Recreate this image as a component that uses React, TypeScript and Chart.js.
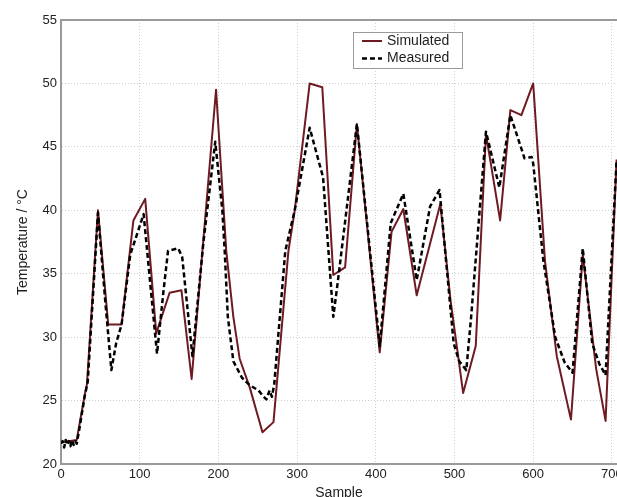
import React, { useEffect, useRef } from "react";
import { Chart, registerables } from "chart.js";

Chart.register(...registerables);

const seriesLabels = ["Simulated", "Measured"];
const xTickValues = [0, 100, 200, 300, 400, 500, 600, 700];

const simX = [0, 10, 20, 30, 33, 47, 60, 77, 92, 107, 121, 138, 153, 166, 197, 210, 219, 227, 240, 256, 270, 289, 297, 316, 332, 346, 361, 376, 405, 420, 435, 452, 482, 495, 511, 527, 540, 558, 571, 585, 600, 615, 630, 648, 663, 680, 692, 706];
const simY = [21.7, 21.8, 21.9, 25.4, 26.3, 40.0, 31.0, 31.0, 39.2, 40.9, 30.3, 33.5, 33.7, 26.7, 49.5, 36.8, 31.6, 28.3, 26.0, 22.5, 23.3, 36.8, 40.0, 50.0, 49.7, 34.9, 35.5, 46.8, 28.8, 38.3, 40.1, 33.3, 40.5, 32.9, 25.6, 29.3, 46.0, 39.2, 47.9, 47.5, 50.0, 36.0, 28.5, 23.5, 36.5, 27.5, 23.4, 44.0];

const measX = [0, 2, 4, 6, 8, 10, 12, 14, 16, 18, 20, 24, 30, 34, 47, 56, 64, 70, 77, 88, 105, 113, 122, 130, 136, 149, 154, 167, 181, 196, 205, 208, 212, 219, 230, 240, 251, 256, 261, 265, 268, 271, 285, 297, 316, 333, 346, 352, 376, 405, 419, 435, 452, 469, 481, 499, 506, 515, 521, 540, 557, 571, 589, 598, 600, 613, 628, 640, 650, 663, 675, 684, 692, 706];
const measY = [21.6, 21.8, 21.3, 21.9, 21.5, 21.8, 21.4, 21.9, 21.5, 21.8, 21.6, 23.0, 25.3, 26.5, 39.8, 33.0, 27.4, 29.5, 31.0, 36.5, 39.7, 34.5, 28.7, 33.5, 36.8, 37.0, 36.3, 28.5, 37.5, 45.4, 40.0, 36.8, 31.6, 28.1, 26.8, 26.2, 25.8, 25.4, 25.1, 25.8, 25.3, 26.3, 36.8, 40.0, 46.5, 42.6, 31.6, 34.5, 46.8, 29.3, 39.0, 41.3, 34.5, 40.3, 41.6, 29.5, 28.1, 27.4, 31.5, 46.2, 41.8, 47.5, 44.1, 44.2, 43.7, 36.0, 30.0, 28.0, 27.2, 37.0, 29.5, 27.9, 27.0, 44.0];

const FONT = "'Liberation Sans', Arial, sans-serif";
const SIM_COLOR = "#6e1a20";
const MEAS_COLOR = "#000000";
const AXIS_COLOR = "#9a9a9a";
const GRID_COLOR = "#cfcfcf";

const legendPlugin = {
  id: "boxLegend",
  afterDraw(chart: any) {
    const ctx = chart.ctx;
    const ds = chart.data.datasets;
    const bx = 353, by = 32, bw = 109, bh = 36;
    ctx.save();
    ctx.fillStyle = "#ffffff";
    ctx.fillRect(bx, by, bw, bh);
    ctx.strokeStyle = "#9a9a9a";
    ctx.lineWidth = 1;
    ctx.setLineDash([]);
    ctx.strokeRect(bx + 0.5, by + 0.5, bw, bh);
    const rows = [ds[0], ds[1]];
    rows.forEach((d: any, i: number) => {
      const y = by + 9 + i * 17.5;
      ctx.beginPath();
      ctx.strokeStyle = d.borderColor;
      ctx.lineWidth = d.borderWidth;
      ctx.setLineDash(d.borderDash || []);
      ctx.moveTo(362, y);
      ctx.lineTo(382, y);
      ctx.stroke();
      ctx.setLineDash([]);
      ctx.fillStyle = "#1e1e1e";
      ctx.font = `14px ${FONT}`;
      ctx.textBaseline = "middle";
      ctx.textAlign = "left";
      ctx.fillText(d.label, 387, y);
    });
    ctx.restore();
  },
};

export default function App() {
  const ref = useRef<HTMLCanvasElement>(null);

  useEffect(() => {
    if (!ref.current) return;
    const chart = new Chart(ref.current, {
      type: "line",
      data: {
        datasets: [
          {
            label: seriesLabels[0],
            data: simX.map((x, i) => ({ x, y: simY[i] })),
            borderColor: SIM_COLOR,
            backgroundColor: SIM_COLOR,
            borderWidth: 2,
            borderJoinStyle: "round",
            pointRadius: 0,
            tension: 0,
            order: 1,
          },
          {
            label: seriesLabels[1],
            data: measX.map((x, i) => ({ x, y: measY[i] })),
            borderColor: MEAS_COLOR,
            backgroundColor: MEAS_COLOR,
            borderWidth: 2.5,
            borderDash: [5, 3],
            borderJoinStyle: "round",
            pointRadius: 0,
            tension: 0,
            order: 0,
          },
        ],
      },
      options: {
        responsive: false,
        animation: false,
        layout: { padding: { top: 20, left: 0, right: 0, bottom: 0 } },
        plugins: {
          legend: { display: false },
          tooltip: { enabled: false },
        },
        scales: {
          x: {
            type: "linear",
            min: 0,
            max: 706.5,
            afterBuildTicks: (scale: any) => {
              scale.ticks = xTickValues.map((v) => ({ value: v }));
            },
            afterFit: (scale: any) => {
              scale.height = 33;
              scale.paddingLeft = 0;
              scale.paddingRight = 0;
            },
            ticks: {
              padding: 3,
              color: "#222222",
              font: { family: FONT, size: 13 },
              maxRotation: 0,
              autoSkip: false,
            },
            grid: {
              drawTicks: false,
              color: GRID_COLOR,
              lineWidth: 1,
            },
            border: {
              display: true,
              color: AXIS_COLOR,
              width: 2,
              dash: [1, 2],
            },
            title: {
              display: true,
              text: "Sample",
              color: "#222222",
              font: { family: FONT, size: 14 },
              padding: { top: 0, bottom: -5 },
            },
          },
          y: {
            min: 20,
            max: 55,
            ticks: {
              stepSize: 5,
              padding: 4,
              color: "#222222",
              font: { family: FONT, size: 13 },
            },
            afterFit: (scale: any) => {
              scale.width = 61;
              scale.paddingTop = 0;
              scale.paddingBottom = 0;
            },
            grid: {
              drawTicks: false,
              color: (c: any) => (c.tick && c.tick.value === 55 ? AXIS_COLOR : GRID_COLOR),
              lineWidth: (c: any) => (c.tick && c.tick.value === 55 ? 2 : 1),
            },
            border: {
              display: true,
              color: AXIS_COLOR,
              width: 2,
              dash: (c: any) => (c.tick && c.tick.value === 55 ? [] : [1, 2]),
            },
            title: {
              display: true,
              text: "Temperature / °C",
              color: "#222222",
              font: { family: FONT, size: 14 },
              padding: { top: 15, bottom: 0 },
            },
          },
        },
      },
      plugins: [legendPlugin],
    } as any);
    return () => chart.destroy();
  }, []);

  return (
    <canvas
      ref={ref}
      width={617}
      height={497}
      style={{ position: "absolute", left: 0, top: 0, display: "block" }}
    />
  );
}
